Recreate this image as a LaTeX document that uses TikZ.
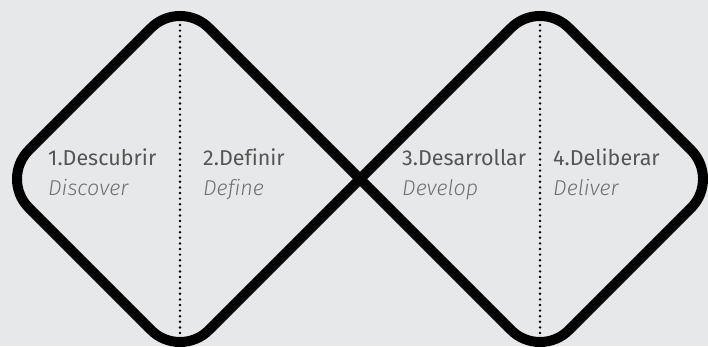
\documentclass[tikz,border=0pt]{standalone}
\usepackage{fontspec}
\setmainfont{Fira Sans}[Ligatures=NoCommon]
\newfontfamily\sublight{Fira Sans Light Italic}[Ligatures=NoCommon]
\definecolor{bg}{HTML}{E7E8E9}
\definecolor{titlec}{HTML}{555555}
\definecolor{subc}{HTML}{707070}
\begin{document}
\begin{tikzpicture}[x=1pt,y=-1pt,
  frame/.style={line width=10pt, rounded corners=41pt, line join=round},
  dotline/.style={line width=2.7pt, line cap=round, dash pattern=on 0pt off 5.6pt},
  title/.style={anchor=base west, inner sep=0pt, text=titlec, font=\fontsize{21.5}{24}\selectfont},
  sub/.style={anchor=base west, inner sep=0pt, text=subc, font=\sublight\fontsize{21.5}{24}\selectfont}]
\fill[bg] (0,0) rectangle (708,346);
\useasboundingbox (0,0) rectangle (708,346);
\coordinate (x) at (360,179);
\coordinate (t1) at (180,-1);
\coordinate (l1) at (0,179);
\coordinate (b1) at (180,359);
\coordinate (t2) at (540,-1);
\coordinate (r2) at (720,179);
\coordinate (b2) at (540,359);
\draw[frame] (x) -- (t1) -- (l1) -- (b1) -- (x) -- (t2) -- (r2) -- (b2) -- cycle;
\coordinate (d1t) at (180,25);
\coordinate (d1b) at (180,346);
\coordinate (d2t) at (540,25);
\coordinate (d2b) at (540,346);
\draw[dotline] (d1t) -- (d1b);
\draw[dotline] (d2t) -- (d2b);
\node[title] (n1) at (48,165) {1.Descubrir};
\node[sub] (s1) at (48,195) {Discover};
\node[title] (n2) at (203,165) {2.Definir};
\node[sub] (s2) at (203,195) {Define};
\node[title] (n3) at (402,165) {3.Desarrollar};
\node[sub] (s3) at (402,195) {Develop};
\node[title] (n4) at (553,165) {4.Deliberar};
\node[sub] (s4) at (553,195) {Deliver};
\end{tikzpicture}
\end{document}
